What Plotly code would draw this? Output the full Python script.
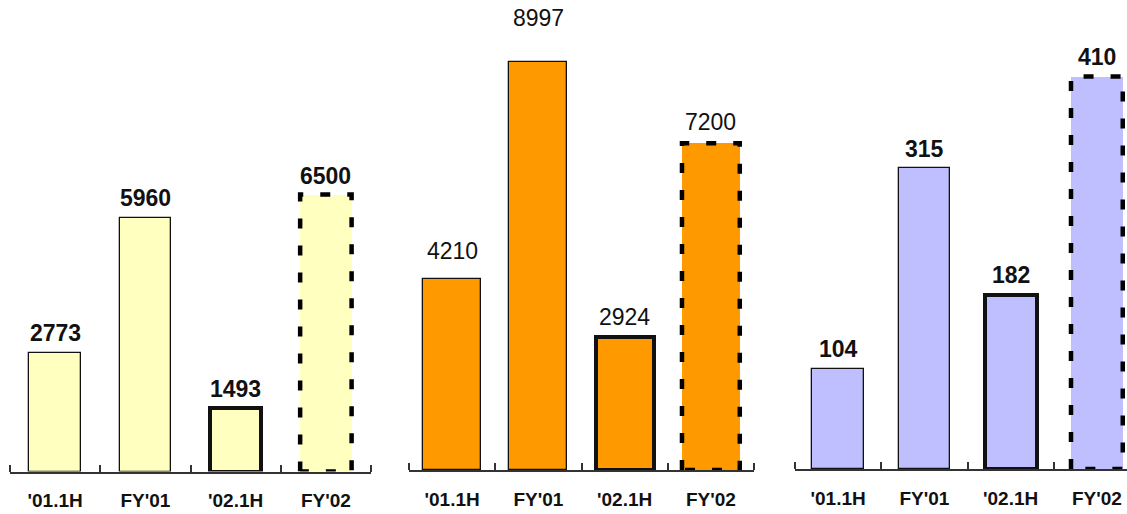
import plotly.graph_objects as go

categories = ["'01.1H", "FY'01", "'02.1H", "FY'02"]
values_a = [2773, 5960, 1493, 6500]
values_b = [4210, 8997, 2924, 7200]
values_c = [104, 315, 182, 410]

# styling (kept apart from data)
colors = ["#FFFFBF", "#FF9900", "#BFBFFF"]
label_bold = [True, False, True]
label_shift = [[20, 20, 19, 19], [28, 44, 20, 21], [20, 19, 20, 20]]
bar_widths = [0.57, 0.67, 0.6]
W, H = 1127, 514
x_px = [(10, 371), (409, 754), (795, 1127)]
x_ranges = [[-0.5, 3.5], [-0.5, 3.5], [-0.5, -0.5 + (1127 - 795) / 86.25]]
base_px = [471.5, 470, 469]
y_max = [11068, 10357, 490]
FONT = "Liberation Sans, Arial"

fig = go.Figure()
series = [values_a, values_b, values_c]
xpos = list(range(len(categories)))
for p, vals in enumerate(series):
    xa = "x" if p == 0 else f"x{p+1}"
    ya = "y" if p == 0 else f"y{p+1}"
    w = bar_widths[p]
    line_w = [1.3, 1.3, 4, 0]
    fig.add_trace(go.Bar(
        x=xpos, y=vals, width=w, xaxis=xa, yaxis=ya,
        marker=dict(color=colors[p], line=dict(color="#111111", width=line_w)),
        showlegend=False, hoverinfo="skip"))
    # dashed outline of the forecast bar
    i = 3
    v = vals[i]
    fig.add_trace(go.Scatter(
        x=[i - w / 2, i - w / 2, i + w / 2, i + w / 2, i - w / 2],
        y=[0, v, v, 0, 0], mode="lines", xaxis=xa, yaxis=ya,
        line=dict(color="black", width=4.5, dash="10px,17px"),
        showlegend=False, hoverinfo="skip"))
    for j, val in enumerate(vals):
        fig.add_annotation(
            x=j, y=val, xref=xa, yref=ya, text=str(val), showarrow=False,
            yanchor="middle", yshift=label_shift[p][j],
            font=dict(family=FONT, size=23, color="#111111",
                      weight="bold" if label_bold[p] else "normal"))

layout = dict(
    width=W, height=H, margin=dict(l=0, r=0, t=0, b=0),
    paper_bgcolor="white", plot_bgcolor="white", bargap=0,
)
for p in range(3):
    xk = "xaxis" if p == 0 else f"xaxis{p+1}"
    yk = "yaxis" if p == 0 else f"yaxis{p+1}"
    ya = "y" if p == 0 else f"y{p+1}"
    xa = "x" if p == 0 else f"x{p+1}"
    bottom = (H - base_px[p]) / H
    layout[xk] = dict(
        domain=[x_px[p][0] / W, x_px[p][1] / W], anchor=ya, range=x_ranges[p],
        tickmode="array", tickvals=xpos, ticktext=categories, ticks="",
        showline=True, linecolor="#333333", linewidth=1.5, showgrid=False,
        zeroline=False, ticklabelstandoff=11,
        tickfont=dict(family=FONT, size=19, color="#111111", weight="bold"),
        minor=dict(tickmode="array", tickvals=[-0.5, 0.5, 1.5, 2.5, 3.5], ticks="inside",
                   ticklen=7, tickwidth=1.5, tickcolor="#333333", showgrid=False),
    )
    layout[yk] = dict(domain=[bottom, 1], anchor=xa, range=[0, y_max[p]], visible=False)

fig.update_layout(**layout)
fig.write_html("out.html")
